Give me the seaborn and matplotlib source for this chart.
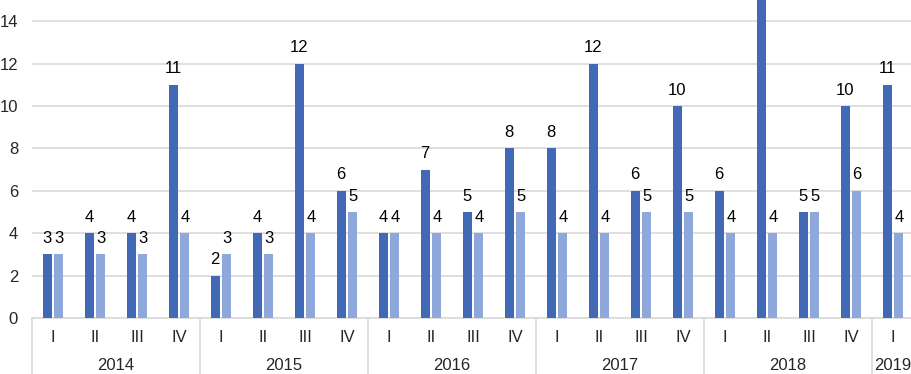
import matplotlib
matplotlib.use("Agg")
import matplotlib.pyplot as plt
import matplotlib.transforms as mtransforms
import pandas as pd
import seaborn as sns

years = ["2014", "2015", "2016", "2017", "2018", "2019"]
quarters = ["I", "II", "III", "IV"]
periods = [(y, q) for y in years for q in quarters][:21]

dark_values = [3, 4, 4, 11, 2, 4, 12, 6, 4, 7, 5, 8, 8, 12, 6, 10, 6, 16, 5, 10, 11]
light_values = [3, 3, 3, 4, 3, 3, 4, 5, 4, 4, 4, 5, 4, 4, 5, 5, 4, 4, 5, 6, 4]

dark_color = "#4169B5"
light_color = "#8FA8DB"
grid_color = "#D9D9D9"
fs = 12


def main():
    sns.set_style("white")
    plt.rcParams["font.family"] = ["Liberation Sans", "DejaVu Sans"]

    labels = [y + " " + q for y, q in periods]
    df = pd.DataFrame({
        "period": labels * 2,
        "count": dark_values + light_values,
        "series": ["a"] * len(labels) + ["b"] * len(labels),
    })

    fig = plt.figure(figsize=(9.11, 3.74), dpi=100)
    ax = fig.add_axes([32 / 911, 56 / 374, 882 / 911, 318 / 374])

    sns.barplot(data=df, x="period", y="count", hue="series", order=labels,
                palette=[dark_color, light_color], width=0.57, gap=0.25,
                saturation=1, legend=False, ax=ax, zorder=3,
                linewidth=0, edgecolor="none")

    for cont in ax.containers:
        ax.bar_label(cont, fmt="%d", padding=6, fontsize=fs, color="#000000")

    ax.set_xlim(-0.5, 20.5)
    ax.set_ylim(0, 15)
    ax.set_yticks(range(0, 15, 2))
    ax.yaxis.grid(True, color=grid_color, lw=1.2, zorder=0)
    ax.set_axisbelow(True)
    ax.tick_params(axis="y", length=0, pad=10, labelsize=fs)
    ax.set_xlabel("")
    ax.set_ylabel("")
    for s in ["top", "right", "left"]:
        ax.spines[s].set_visible(False)
    ax.spines["bottom"].set_color(grid_color)
    ax.spines["bottom"].set_linewidth(1.2)

    ax.set_xticks(range(len(labels)))
    ax.set_xticklabels([q for _, q in periods], fontsize=fs)
    ax.tick_params(axis="x", length=0, pad=9)

    trans = mtransforms.blended_transform_factory(ax.transData, ax.transAxes)
    depth = -56 / 318
    bounds = [-0.5, 3.5, 7.5, 11.5, 15.5, 19.5, 20.5]
    for b in bounds:
        ax.plot([b, b], [0, depth], transform=trans, color=grid_color,
                lw=1.2, clip_on=False)
    for i, y in enumerate(years):
        lo, hi = bounds[i], bounds[i + 1]
        ax.text((lo + hi) / 2, -48 / 318, y, transform=trans, ha="center",
                va="center", fontsize=fs)

    fig.savefig("out.png", dpi=100)


if __name__ == "__main__":
    main()
